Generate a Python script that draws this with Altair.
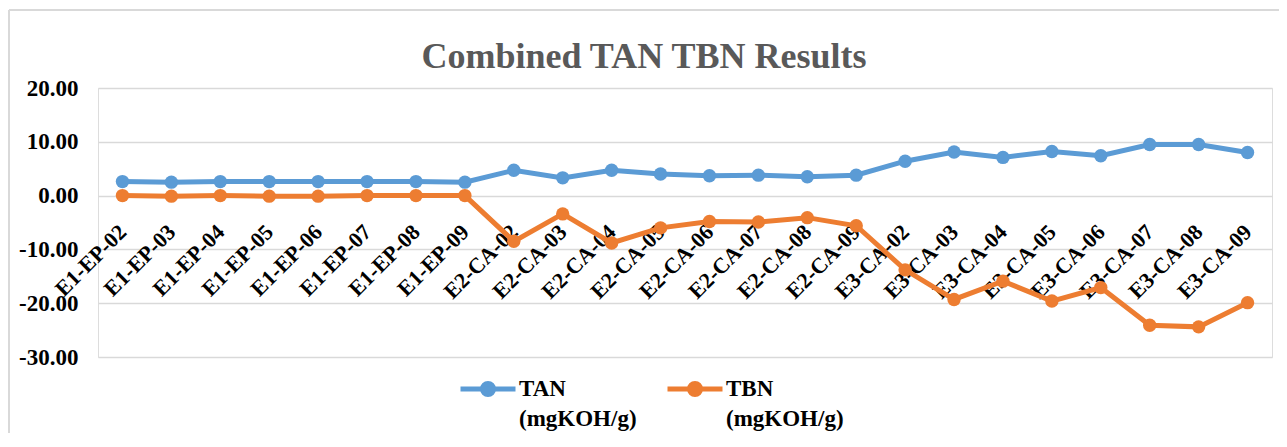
import altair as alt
import pandas as pd

categories = [
    "E1-EP-02", "E1-EP-03", "E1-EP-04", "E1-EP-05", "E1-EP-06", "E1-EP-07",
    "E1-EP-08", "E1-EP-09", "E2-CA-02", "E2-CA-03", "E2-CA-04", "E2-CA-05",
    "E2-CA-06", "E2-CA-07", "E2-CA-08", "E2-CA-09", "E3-CA-02", "E3-CA-03",
    "E3-CA-04", "E3-CA-05", "E3-CA-06", "E3-CA-07", "E3-CA-08", "E3-CA-09",
]
tan = [2.6, 2.5, 2.6, 2.6, 2.6, 2.6, 2.6, 2.5, 4.7, 3.3, 4.7, 4.0,
       3.7, 3.8, 3.5, 3.8, 6.4, 8.1, 7.1, 8.2, 7.4, 9.5, 9.5, 8.0]
tbn = [0.0, -0.1, 0.0, -0.1, -0.1, 0.0, 0.0, 0.0, -8.5, -3.4, -8.8, -6.0,
       -4.8, -4.9, -4.1, -5.6, -13.8, -19.3, -15.9, -19.6, -17.1, -24.1, -24.4, -19.9]
series = ["TAN (mgKOH/g)", "TBN (mgKOH/g)"]
colors = ["#5B9BD5", "#ED7D31"]
y_ticks = [-30, -20, -10, 0, 10, 20]

rows = []
for c, a, b in zip(categories, tan, tbn):
    rows.append({"sample": c, "series": series[0], "value": a})
    rows.append({"sample": c, "series": series[1], "value": b})
df = pd.DataFrame(rows)

FONT = "Liberation Serif"

x_enc = alt.X(
    "sample:N", sort=categories,
    scale=alt.Scale(type="point", padding=0.5),
    axis=alt.Axis(
        title=None, labelAngle=-45, labelAlign="right", labelBaseline="middle",
        labelPadding=32, labelFont=FONT, labelFontSize=22, labelFontWeight="bold",
        labelColor="black", ticks=False, domain=False, grid=False, offset=-161,
        labelOverlap=False, labelBound=False,
    ),
)
y_enc = alt.Y(
    "value:Q",
    scale=alt.Scale(domain=[-30, 20], nice=False, zero=False),
    axis=alt.Axis(
        title=None, values=y_ticks,
        labelExpr="(datum.value < 0 ? '-' : '') + format(abs(datum.value), '.2f')",
        labelFont=FONT, labelFontSize=23, labelFontWeight="bold", labelColor="black",
        labelPadding=20, ticks=False, domain=False, gridColor="#D9D9D9", gridWidth=1.5,
    ),
)

legend_sym = "M-1,0H1M0.2,0A0.2,0.2 0 1,1 -0.2,0A0.2,0.2 0 1,1 0.2,0Z"
legend_opts = dict(
    title=None, orient="none", legendX=360, legendY=271, direction="horizontal",
    symbolType=legend_sym, symbolSize=3025, symbolStrokeWidth=5, symbolOpacity=1,
    labelFont=FONT, labelFontSize=23, labelFontWeight="bold", labelColor="black",
    labelExpr="split(datum.label, ' ')", labelOffset=1, columnPadding=20,
    labelBaseline="middle", labelLimit=300,
)
stroke_enc = alt.Stroke(
    "series:N", scale=alt.Scale(domain=series, range=colors),
    legend=alt.Legend(**legend_opts),
)
fill_enc = alt.Fill(
    "series:N", scale=alt.Scale(domain=series, range=colors),
    legend=alt.Legend(**legend_opts),
)

base = alt.Chart(df)
lines = base.mark_line(strokeWidth=5).encode(x=x_enc, y=y_enc, stroke=stroke_enc)
points = base.mark_circle(size=180, opacity=1).encode(x=x_enc, y=y_enc, fill=fill_enc)

frame_data = alt.Data(values=[{"k": 1}])
top_border = alt.Chart(frame_data).mark_rule(color="#D9D9D9", strokeWidth=2).encode(
    x=alt.value(-89), x2=alt.value(1190), y=alt.value(-78)
)
left_border = alt.Chart(frame_data).mark_rule(color="#D9D9D9", strokeWidth=2).encode(
    x=alt.value(-89), y=alt.value(-78), y2=alt.value(360)
)

chart = alt.layer(top_border, left_border, lines, points).properties(
    width=1174, height=269,
    title=alt.TitleParams(
        "Combined TAN TBN Results", font=FONT, fontSize=36, fontWeight="bold",
        color="#595959", anchor="middle", dx=-41, offset=14, dy=81,
    ),
    autosize=alt.AutoSizeParams(type="none"),
    padding={"left": 90, "top": 80, "right": 7, "bottom": 76},
    background="white",
).configure_view(stroke=None).configure(style={"guide-label": {"lineHeight": 30}})

chart.save("out.html", embed_options={"renderer": "svg", "actions": False})
